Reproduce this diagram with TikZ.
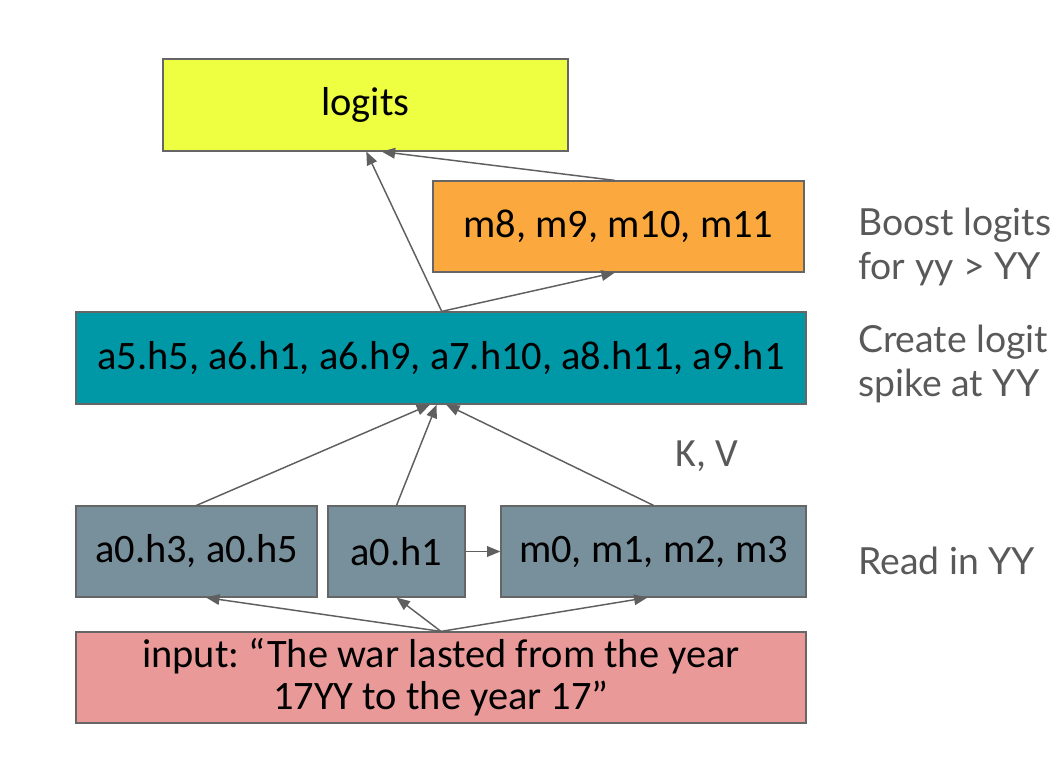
\documentclass[tikz,border=0pt]{standalone}
\usepackage{fontspec}
\setmainfont{Carlito}
\newfontfamily\sidefont{Lato}
\usetikzlibrary{arrows.meta,calc}
\frenchspacing
\definecolor{bordergray}{HTML}{666666}
\definecolor{arrgray}{HTML}{5F5F5F}
\definecolor{sidegray}{HTML}{595959}
\definecolor{cyellow}{HTML}{EEFF41}
\definecolor{corange}{HTML}{FBA93F}
\definecolor{cteal}{HTML}{0097A7}
\definecolor{cgrey}{HTML}{78909C}
\definecolor{cpink}{HTML}{EA9999}
\tikzset{
  box/.style={draw=bordergray, line width=0.9pt, inner sep=0pt, align=center,
    font=\fontsize{30.3}{31.5}\selectfont, text=black},
  conn/.style={draw=arrgray, line width=1.1pt, -{Triangle[length=10pt,width=8pt]}},
  side/.style={font=\sidefont\fontsize{28}{32.5}\selectfont, text=sidegray, align=left, anchor=west, inner sep=0pt},
}
\begin{document}
\begin{tikzpicture}[x=0.75pt,y=-0.75pt]
\useasboundingbox (0,0) rectangle (1063,766);
\node[box, fill=cyellow, minimum width=405*0.75pt, minimum height=92*0.75pt] (logits) at (365.5,105) {logits};
\node[box, fill=corange, minimum width=371*0.75pt, minimum height=91*0.75pt] (mlate) at (618.5,226.5) {m8, m9, m10, m11};
\node[box, fill=cteal, minimum width=730*0.75pt, minimum height=92*0.75pt] (heads) at (441,358) {a5.h5, a6.h1, a6.h9, a7.h10, a8.h11, a9.h1};
\node[box, fill=cgrey, minimum width=241*0.75pt, minimum height=91*0.75pt] (aa) at (196.5,551.5) {a0.h3, a0.h5};
\node[box, fill=cgrey, minimum width=137*0.75pt, minimum height=91*0.75pt] (ab) at (396.5,551.5) {a0.h1};
\node[box, fill=cgrey, minimum width=305*0.75pt, minimum height=91*0.75pt] (mearly) at (653.5,551.5) {m0, m1, m2, m3};
\node[box, fill=cpink, minimum width=730*0.75pt, minimum height=91*0.75pt] (input) at (441,677.5) {input: “The war lasted from the year\\17YY to the year 17”};

\node[side] (lb1) at (858,247) {Boost logits\\for yy > YY};
\node[side] (lb2) at (858,364) {Create logit\\spike at YY};
\node[side] (lb3) at (858,561) {Read in YY};
\node[font=\fontsize{30}{34}\selectfont, text=sidegray, inner sep=0pt] (kv) at (707,456) {K, V};

% arrows up to logits
\draw[conn] ($(heads.north west)!0.501!(heads.north east)$) -- ($(logits.south west)!0.502!(logits.south east)$);
\draw[conn] ($(mlate.north west)!0.49!(mlate.north east)$) -- ($(logits.south west)!0.54!(logits.south east)$);
\draw[conn] ($(heads.north west)!0.501!(heads.north east)$) -- ($(mlate.south west)!0.49!(mlate.south east)$);
% arrows up to heads
\draw[conn] (aa.north) -- ($(heads.south west)!0.485!(heads.south east)$);
\draw[conn] (ab.north) -- ($(heads.south west)!0.494!(heads.south east)$);
\draw[conn] (mearly.north) -- ($(heads.south west)!0.507!(heads.south east)$);
\draw[conn] (ab.east) -- (mearly.west);
% arrows from input
\draw[conn] (input.north) -- ($(aa.south west)!0.54!(aa.south east)$);
\draw[conn] (input.north) -- (ab.south);
\draw[conn] (input.north) -- ($(mearly.south west)!0.48!(mearly.south east)$);
\end{tikzpicture}
\end{document}
